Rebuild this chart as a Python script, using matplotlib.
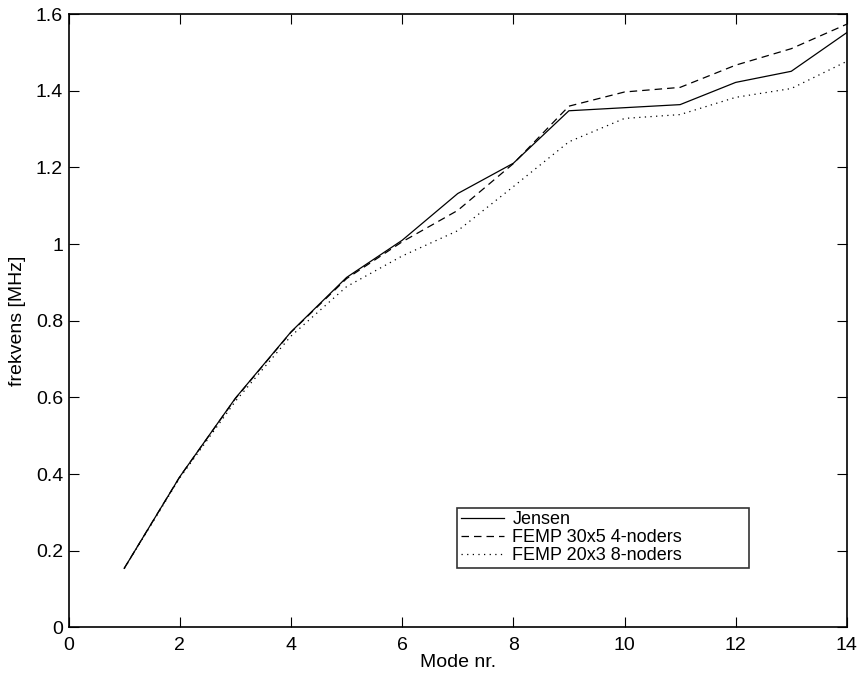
import numpy as np
import matplotlib.pyplot as plt

plt.rcParams['font.family'] = ['Liberation Sans', 'DejaVu Sans']

# mode number and frequencies [MHz]
mode = [1, 2, 3, 4, 5, 6, 7, 8, 9, 10, 11, 12, 13, 14]
jensen = [0.154, 0.393, 0.598, 0.771, 0.913, 1.010, 1.132, 1.211, 1.348, 1.356, 1.364, 1.422, 1.451, 1.552]
femp_30x5 = [0.154, 0.393, 0.597, 0.770, 0.910, 1.006, 1.088, 1.210, 1.360, 1.397, 1.409, 1.467, 1.510, 1.574]
femp_20x3 = [0.153, 0.390, 0.590, 0.760, 0.889, 0.969, 1.035, 1.150, 1.267, 1.328, 1.338, 1.383, 1.406, 1.477]
labels = ['Jensen', 'FEMP 30x5 4-noders', 'FEMP 20x3 8-noders']

fig = plt.figure(figsize=(8.58, 6.79), dpi=100)
ax = fig.add_axes([0.080, 0.0761, 0.907, 0.903])

ax.plot(mode, jensen, '-', color='k', lw=0.9, label=labels[0])
ax.plot(mode, femp_30x5, '--', color='k', lw=0.9, dashes=(6, 4), label=labels[1])
ax.plot(mode, femp_20x3, ':', color='k', lw=0.9, dashes=(1, 3.5), label=labels[2])

ax.set_xlim(0, 14)
ax.set_ylim(0, 1.6)
ax.set_xticks(np.arange(0, 15, 2))
ax.set_yticks([0, 0.2, 0.4, 0.6, 0.8, 1, 1.2, 1.4, 1.6])
ax.set_yticklabels(['0', '0.2', '0.4', '0.6', '0.8', '1', '1.2', '1.4', '1.6'])
ax.tick_params(direction='in', length=7, width=0.8, top=True, right=True, labelsize=14)
ax.tick_params(axis='x', pad=7)
ax.tick_params(axis='y', pad=4)
for s in ax.spines.values():
    s.set_linewidth(1.2)

ax.set_xlabel('Mode nr.', fontsize=14, labelpad=0)
ax.set_ylabel('frekvens [MHz]', fontsize=14, labelpad=7)

leg = ax.legend(loc='lower left', bbox_to_anchor=(0.4995, 0.0972, 0.3745, 0.117), mode='expand',
                fontsize=13, frameon=True, fancybox=False, handlelength=2.4, borderpad=0.2,
                labelspacing=0.05, handletextpad=0.45, borderaxespad=0)
leg.get_frame().set_edgecolor('k')
leg.get_frame().set_linewidth(1.2)

fig.savefig('out.png', dpi=100)
